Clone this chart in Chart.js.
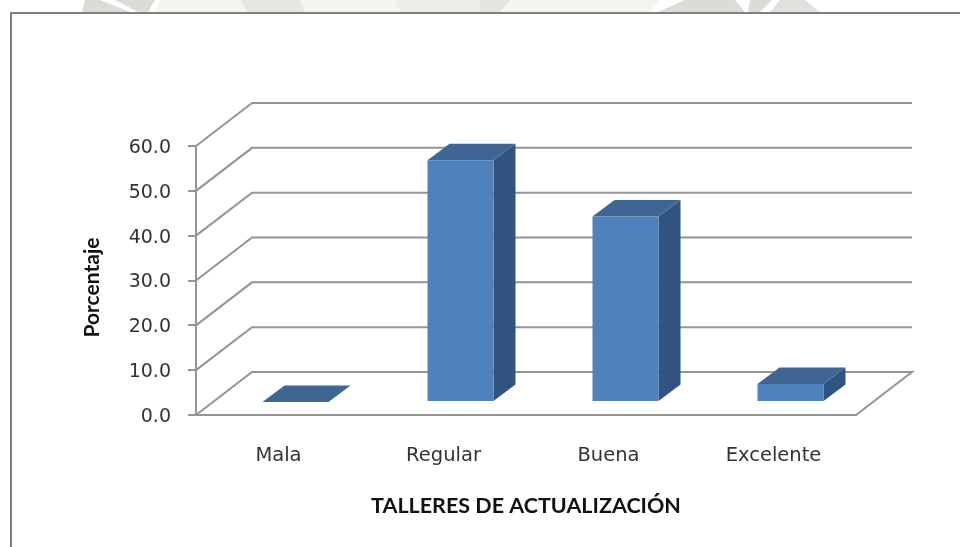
<!DOCTYPE html>
<html>
<head>
<meta charset="utf-8">
<style>
html,body{margin:0;padding:0;background:#fff;overflow:hidden}
#wrap{position:relative;width:961px;height:547px}
canvas{position:absolute;left:0;top:0}
</style>
<script src="https://cdn.jsdelivr.net/npm/chart.js@4"></script>
</head>
<body>
<div id="wrap"><canvas id="c" width="961" height="547"></canvas></div>
<script>
const categories = ["Mala", "Regular", "Buena", "Excelente"];
const porcentaje = [0.0, 53.9, 41.4, 4.0];
const yTickValues = [0, 10, 20, 30, 40, 50, 60];
const xAxisTitle = "TALLERES DE ACTUALIZACIÓN";
const yAxisTitle = "Porcentaje";

const GRID = "#949494";
const FRONT = "#4f81bd";
const TOP = "#3f6592";
const SIDE = "#30547f";
const wallDepth = { x: 56, y: -43 };
const barShift = { x: 17, y: -13 };
const barDepth = { x: 22, y: -16.5 };

function poly(ctx, pts, fill, stroke) {
  ctx.beginPath();
  pts.forEach((p, i) => i ? ctx.lineTo(p[0], p[1]) : ctx.moveTo(p[0], p[1]));
  ctx.closePath();
  if (fill) { ctx.fillStyle = fill; ctx.fill(); }
  if (stroke) { ctx.strokeStyle = stroke; ctx.stroke(); }
}

const frame3d = {
  id: "frame3d",
  beforeDraw(chart) {
    const { ctx, scales: { x, y } } = chart;
    ctx.save();
    // faint watermark showing above the chart frame
    const marks = [
      ["#f3f5f1", [[160,0],[660,0],[650,12],[155,12]]],
      ["#d9ddd6", [[85,0],[100,0],[130,12],[82,12]]],
      ["#d9ddd6", [[115,0],[155,0],[148,12],[138,12]]],
      ["#e6e9e3", [[240,0],[300,0],[305,12],[248,12]]],
      ["#eceee9", [[395,0],[480,0],[480,12],[400,12]]],
      ["#e3e6e0", [[480,0],[510,0],[500,12],[480,12]]],
      ["#d9ddd6", [[685,0],[735,0],[745,12],[658,12]]],
      ["#d9ddd6", [[750,0],[772,0],[760,12],[748,12]]],
      ["#dfe2dc", [[780,0],[805,0],[820,12],[770,12]]]
    ];
    marks.forEach(m => poly(ctx, m[1], m[0]));

    ctx.strokeStyle = "#808080";
    ctx.lineWidth = 2;
    ctx.beginPath();
    ctx.moveTo(11, 547);
    ctx.lineTo(11, 13);
    ctx.lineTo(960, 13);
    ctx.stroke();

    ctx.strokeStyle = GRID;
    ctx.lineWidth = 2;
    yTickValues.forEach(v => {
      const py = y.getPixelForValue(v);
      ctx.beginPath();
      ctx.moveTo(x.left, py);
      ctx.lineTo(x.left + wallDepth.x, py + wallDepth.y);
      ctx.lineTo(x.right + wallDepth.x, py + wallDepth.y);
      if (v === 0) ctx.lineTo(x.right, py);
      ctx.stroke();
    });
    ctx.restore();
  },
  beforeDatasetDraw(chart, args) {
    const { ctx } = chart;
    const meta = chart.getDatasetMeta(args.index);
    ctx.save();
    ctx.translate(barShift.x, barShift.y);
    meta.data.forEach(b => {
      const hw = b.width / 2, l = b.x - hw, r = b.x + hw;
      const t = b.y, bt = b.base, dx = barDepth.x, dy = barDepth.y;
      poly(ctx, [[r,t],[r+dx,t+dy],[r+dx,bt+dy],[r,bt]], SIDE);
      poly(ctx, [[l,t],[l+dx,t+dy],[r+dx,t+dy],[r,t]], TOP);
    });
  },
  afterDatasetDraw(chart) {
    chart.ctx.restore();
  }
};

new Chart(document.getElementById("c"), {
  type: "bar",
  data: {
    labels: categories,
    datasets: [{
      data: porcentaje,
      backgroundColor: FRONT,
      borderWidth: 0,
      barPercentage: 0.4,
      categoryPercentage: 1
    }]
  },
  plugins: [frame3d],
  options: {
    responsive: false,
    animation: false,
    events: [],
    layout: { padding: { left: 0, right: 105, top: 146, bottom: 0 } },
    plugins: { legend: { display: false }, tooltip: { enabled: false }, title: { display: false } },
    scales: {
      x: {
        grid: { display: false, drawTicks: false },
        border: { display: true, color: GRID, width: 2 },
        ticks: { color: "#333", font: { family: "DejaVu Sans", size: 19.5 }, padding: 29, maxRotation: 0 },
        title: { display: true, text: xAxisTitle, color: "#111", font: { family: "Lato", size: 21.5, weight: "bold" }, padding: { top: 26, bottom: 28 } },
        afterFit(s) { s.height = 132; }
      },
      y: {
        min: 0, max: 60,
        afterBuildTicks(s) { s.ticks = yTickValues.map(v => ({ value: v })); },
        grid: { drawOnChartArea: false, drawTicks: true, tickLength: 8, color: GRID, lineWidth: 2 },
        border: { display: true, color: GRID, width: 2 },
        ticks: { color: "#333", font: { family: "DejaVu Sans", size: 19 }, padding: 17, labelOffset: 2, callback: v => Number(v).toFixed(1) },
        title: { display: true, text: yAxisTitle, color: "#111", font: { family: "Lato", size: 21, weight: "bold" }, padding: { top: 80, bottom: 80 } },
        afterFit(s) {
          s.width = 196;
          if (!s._titleShifted) {
            s._titleShifted = true;
            const orig = s.drawTitle.bind(s);
            s.drawTitle = function () {
              s.ctx.save();
              s.ctx.translate(0, 7);
              orig();
              s.ctx.restore();
            };
          }
        }
      }
    }
  }
});
</script>
</body>
</html>
